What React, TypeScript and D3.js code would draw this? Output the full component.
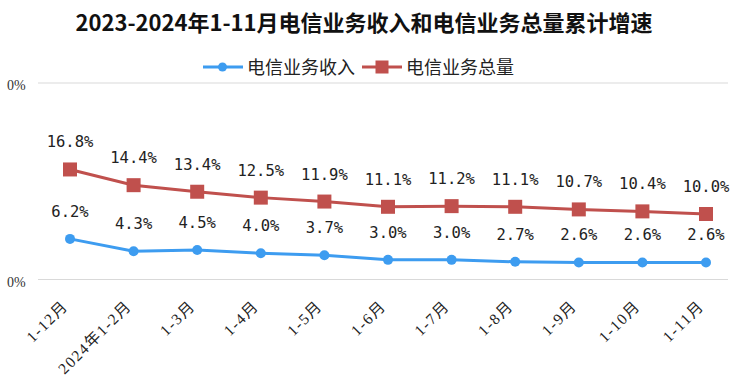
import React from "react";
import * as d3 from "d3";

const categories = ["1-12月", "2024年1-2月", "1-3月", "1-4月", "1-5月", "1-6月", "1-7月", "1-8月", "1-9月", "1-10月", "1-11月"];
const revenue = [6.2, 4.3, 4.5, 4.0, 3.7, 3.0, 3.0, 2.7, 2.6, 2.6, 2.6];
const volume = [16.8, 14.4, 13.4, 12.5, 11.9, 11.1, 11.2, 11.1, 10.7, 10.4, 10.0];
const yTicks = [0, 30];
const yTickLabels = ["0%", "0%"];

const BLUE = "#3d9cf0";
const RED = "#c0504d";

export default function App() {
  const width = 740;
  const height = 385;

  const x = d3.scalePoint<string>().domain(categories).range([70, 706]);
  const y = d3.scaleLinear().domain([0, 30]).range([279.5, 83]);

  const line = d3
    .line<number>()
    .x((d, i) => x(categories[i]) as number)
    .y((d) => y(d));

  const labelFont = "'DejaVu Sans Mono', monospace";

  return (
    <svg
      width={width}
      height={height}
      style={{ position: "absolute", left: 0, top: 0, background: "#fff" }}
    >
      <text
        x={364}
        y={31}
        textAnchor="middle"
        fontSize={22}
        fontWeight="bold"
        fontFamily="'Noto Sans CJK SC', sans-serif"
        fill="#111"
      >
        2023-2024年1-11月电信业务收入和电信业务总量累计增速
      </text>

      {/* legend */}
      <g fontFamily="'Noto Sans CJK SC', sans-serif" fontSize={18} fill="#222">
        <line x1={203} x2={243} y1={67} y2={67} stroke={BLUE} strokeWidth={3} />
        <circle cx={222.5} cy={67} r={4.5} fill={BLUE} />
        <text x={247} y={73.5}>电信业务收入</text>
        <line x1={362} x2={402} y1={67} y2={67} stroke={RED} strokeWidth={3} />
        <rect x={375.5} y={60.5} width={13} height={13} fill={RED} />
        <text x={406} y={73.5}>电信业务总量</text>
      </g>

      {/* gridlines + y labels */}
      {yTicks.map((t, i) => (
        <g key={i}>
          <line x1={38} x2={728} y1={y(t)} y2={y(t)} stroke="#d9d9d9" strokeWidth={1.2} />
          <text
            x={7}
            y={y(t) + 7}
            fontSize={14}
            fontFamily="'Liberation Serif', serif"
            fill="#333"
          >
            {yTickLabels[i]}
          </text>
        </g>
      ))}

      {/* lines */}
      <path d={line(volume) || ""} fill="none" stroke={RED} strokeWidth={3} />
      <path d={line(revenue) || ""} fill="none" stroke={BLUE} strokeWidth={3} />

      {volume.map((v, i) => (
        <rect
          key={"v" + i}
          x={(x(categories[i]) as number) - 7}
          y={y(v) - 7}
          width={14}
          height={14}
          fill={RED}
        />
      ))}
      {revenue.map((v, i) => (
        <circle key={"r" + i} cx={x(categories[i]) as number} cy={y(v)} r={5} fill={BLUE} />
      ))}

      {/* data labels */}
      <g fontFamily={labelFont} fontSize={15.5} fill="#222" textAnchor="middle">
        {volume.map((v, i) => (
          <text key={"vl" + i} x={x(categories[i]) as number} y={y(v) - 22}>
            {v.toFixed(1) + "%"}
          </text>
        ))}
        {revenue.map((v, i) => (
          <text key={"rl" + i} x={x(categories[i]) as number} y={y(v) - 22}>
            {v.toFixed(1) + "%"}
          </text>
        ))}
      </g>

      {/* x labels */}
      <g
        fontFamily="'Liberation Serif', 'Noto Sans CJK SC', serif"
        fontSize={15.5}
        letterSpacing={1.5}
        fill="#222"
        textAnchor="end"
      >
        {categories.map((c) => {
          const px = (x(c) as number) - 1;
          const py = 307;
          return (
            <text key={c} x={px} y={py} transform={`rotate(-45 ${px} ${py})`}>
              {c}
            </text>
          );
        })}
      </g>
    </svg>
  );
}
